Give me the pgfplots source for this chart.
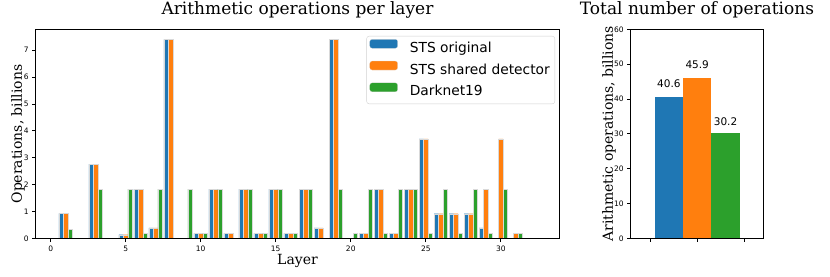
\documentclass[border=0pt]{standalone}
\usepackage{fontspec}
\setmainfont{DejaVu Serif}
\newfontfamily\dvs{DejaVu Sans}
\usepackage{pgfplots}
\pgfplotsset{compat=1.18}
\usepackage{pgfplotstable}

\definecolor{c1}{HTML}{1F77B4}
\definecolor{c2}{HTML}{FF7F0E}
\definecolor{c3}{HTML}{2CA02C}

\pgfplotstableread{
layer sts shd dk
0 nan nan nan
1 0.94 0.94 0.34
2 nan nan nan
3 2.77 2.77 1.84
4 nan nan nan
5 0.15 0.15 1.84
6 1.84 1.84 0.20
7 0.40 0.40 1.84
8 7.40 7.40 nan
9 nan nan 1.84
10 0.20 0.20 0.20
11 1.84 1.84 1.84
12 0.20 0.20 nan
13 1.84 1.84 1.84
14 0.20 0.20 0.20
15 1.84 1.84 1.84
16 0.20 0.20 0.20
17 1.84 1.84 1.84
18 0.40 0.40 nan
19 7.40 7.40 1.84
20 nan nan 0.20
21 0.20 0.20 1.84
22 1.84 1.84 0.20
23 0.20 0.20 1.84
24 1.84 1.84 1.84
25 3.70 3.70 0.20
26 0.93 0.93 1.84
27 0.93 0.93 0.20
28 0.93 0.93 1.84
29 0.40 1.84 0.20
30 0.02 3.70 1.84
31 nan 0.20 0.20
32 nan 0.01 nan
}\layers

\pgfplotsset{
  /pgf/number format/assume math mode=true,
  mpl/.style={
    scale only axis, axis on top,
    tick align=outside, tick pos=left,
    major tick length=3.5bp,
    axis line style={line width=0.8bp},
    every tick/.style={black, line width=0.8bp},
    tick label style={font=\dvs\fontsize{7.5bp}{9bp}\selectfont},
    title style={inner sep=0pt, anchor=base, font=\fontsize{17bp}{20bp}\selectfont},
    label style={inner sep=0pt, font=\fontsize{14bp}{16bp}\selectfont},
  },
  barst/.style={ybar, bar shift=0pt, draw=white!85!black, line width=0.15bp,
    legend image code/.code={\fill[##1] (0bp,0.5bp) rectangle (28bp,9.5bp);}},
}

\begin{document}
\begin{tikzpicture}
\useasboundingbox (0,0) rectangle (830bp,277bp);
\begin{axis}[mpl,
  at={(35.7bp,38.3bp)}, anchor=south west,
  width=523.6bp, height=209.4bp,
  xmin=-1.0, xmax=33.9, ymin=0, ymax=7.77,
  xtick={0,5,...,30}, ytick={0,1,...,7},
  title={Arithmetic operations per layer},
  title style={at={(axis description cs:0.5,1.041)}},
  xlabel={Layer},
  xlabel style={at={(axis description cs:0.5,-0.1223)}, anchor=base},
  ylabel={Operations, billions},
  ylabel style={at={(axis description cs:-0.0204,0.5)}, anchor=south},
  legend cell align=left,
  legend style={at={(axis description cs:0.9918,0.968)}, anchor=north east,
    draw=black!18, rounded corners=2.5bp, fill=white,
    font=\dvs\fontsize{13.8bp}{16bp}\selectfont,
    inner xsep=3bp, inner ysep=3bp, row sep=3.7bp, column sep=10bp,
    nodes={inner xsep=2bp, inner ysep=2bp, text height=10bp, text depth=3bp}},
]
\addplot[barst, bar width=0.3, fill=c1] table[x expr=\thisrow{layer}-0.3, y=sts] {\layers};
\addplot[barst, bar width=0.3, fill=c2] table[x expr=\thisrow{layer}, y=shd] {\layers};
\addplot[barst, bar width=0.3, fill=c3] table[x expr=\thisrow{layer}+0.3, y=dk] {\layers};
\legend{STS original, STS shared detector, Darknet19}
\end{axis}

\begin{axis}[mpl,
  at={(630.7bp,38.7bp)}, anchor=south west,
  width=132.6bp, height=209bp,
  xmin=-0.41, xmax=2.4, ymin=0, ymax=60,
  xtick={0,1,2}, xticklabels={}, ytick={0,10,...,60},
  title={Total number of operations},
  title style={at={(axis description cs:0.5,1.041)}},
  ylabel={Arithmetic operations, billions},
  ylabel style={at={(axis description cs:-0.111,0.5)}, anchor=south},
  nodes near coords style={font=\dvs\fontsize{10.5bp}{12bp}\selectfont, anchor=south, inner sep=0pt},
]
\addplot[barst, bar width=0.6, fill=c1, draw=none, nodes near coords={\pgfmathprintnumber[fixed,fixed zerofill,precision=1]{\pgfplotspointmeta}}, nodes near coords style={yshift=8.8bp}] coordinates {(0.4,40.6)};
\addplot[barst, bar width=0.6, fill=c2, draw=none, nodes near coords={\pgfmathprintnumber[fixed,fixed zerofill,precision=1]{\pgfplotspointmeta}}, nodes near coords style={yshift=9.7bp}] coordinates {(1.0,45.9)};
\addplot[barst, bar width=0.6, fill=c3, draw=none, nodes near coords={\pgfmathprintnumber[fixed,fixed zerofill,precision=1]{\pgfplotspointmeta}}, nodes near coords style={yshift=7.0bp}] coordinates {(1.6,30.2)};
\end{axis}
\end{tikzpicture}
\end{document}
